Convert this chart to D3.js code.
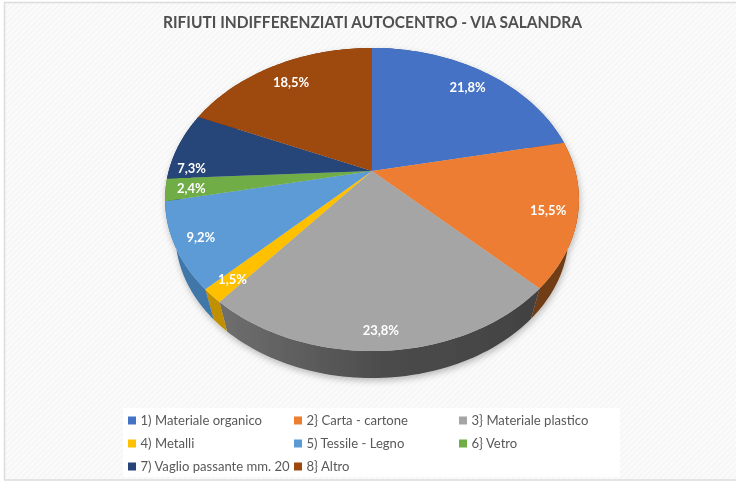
<!DOCTYPE html>
<html>
<head>
<meta charset="utf-8">
<style>
    html, body { margin: 0; padding: 0; background: #fff; overflow: hidden; }
    svg { display: block; filter: blur(0.4px); }
    text { font-family: Lato, "Open Sans", sans-serif; }
</style>
</head>
<body>
<div id="containerChart"></div>
<script src="https://cdn.jsdelivr.net/npm/d3@7"></script>
<script>
    var chartTitle = "RIFIUTI INDIFFERENZIATI AUTOCENTRO - VIA SALANDRA";
    var categories = ["1) Materiale organico", "2} Carta - cartone", "3} Materiale plastico", "4) Metalli",
        "5) Tessile - Legno", "6} Vetro", "7) Vaglio passante mm. 20", "8} Altro"];
    var values = [21.8, 15.5, 23.8, 1.5, 9.2, 2.4, 7.3, 18.5];
    var colors = ["#4472C4", "#ED7D31", "#A5A5A5", "#FFC000", "#5B9BD5", "#70AD47", "#264478", "#9E480E"];
    var sideColors = ["#2f5290", "#6f3c14", "#565656", "#c09000", "#3f76a8", "#4d7a30", "#1a2f54", "#6e3209"];

    var width = 736, height = 482;

    var svg = d3.select("#containerChart")
        .append("svg")
        .attr("width", width)
        .attr("height", height);

    var defs = svg.append("defs");
    var shadow = defs.append("filter").attr("id", "pieShadow")
        .attr("x", "-10%").attr("y", "-10%").attr("width", "120%").attr("height", "125%");
    shadow.append("feDropShadow").attr("dx", 1).attr("dy", 3)
        .attr("stdDeviation", 3).attr("flood-color", "#000").attr("flood-opacity", 0.25);

    // grey side darkens from left to right
    var sideGrad = defs.append("linearGradient").attr("id", "greySide")
        .attr("gradientUnits", "userSpaceOnUse")
        .attr("x1", 225).attr("x2", 540).attr("y1", 0).attr("y2", 0);
    sideGrad.append("stop").attr("offset", 0).attr("stop-color", "#6e6e6e");
    sideGrad.append("stop").attr("offset", 0.5).attr("stop-color", "#4c4c4c");
    sideGrad.append("stop").attr("offset", 1).attr("stop-color", "#424242");

    // faint diagonal hatch of the chart area
    var hatch = defs.append("pattern").attr("id", "hatch")
        .attr("patternUnits", "userSpaceOnUse")
        .attr("width", 4).attr("height", 4)
        .attr("patternTransform", "rotate(45)");
    hatch.append("rect").attr("width", 4).attr("height", 4).attr("fill", "#fbfbfb");
    hatch.append("rect").attr("width", 2).attr("height", 4).attr("fill", "#f6f6f6");

    // page
    svg.append("rect").attr("width", width).attr("height", height).attr("fill", "#fff");
    svg.append("rect").attr("x", 4.5).attr("y", 2.5).attr("width", width).attr("height", 477.5)
        .attr("fill", "url(#hatch)").attr("stroke", "#dcdcdc").attr("stroke-width", 1.5);

    svg.append("text")
        .attr("x", 372.5).attr("y", 28)
        .attr("text-anchor", "middle")
        .attr("font-size", 17.5)
        .attr("font-weight", 700)
        .attr("fill", "#505050")
        .attr("textLength", 419)
        .attr("lengthAdjust", "spacingAndGlyphs")
        .text(chartTitle);

    // tilted disc: unit circle through a perspective projection
    var cx = 372, cy = 171, a = 203.3, b = 146.2, k = -0.188;
    function project(angle, scale, dy) {
        var u = Math.sin(angle), v = -Math.cos(angle), den = 1 + k * v;
        return [cx + scale * a * u / den, cy + dy + scale * b * v / den];
    }
    var bottomScale = 0.95, bottomDrop = 36;

    var pie = d3.pie().sort(null).value(function (d) { return d; });
    var arcs = pie(values);

    function arcPoints(d, scale, dy) {
        return d3.range(0, 61).map(function (i) {
            return project(d.startAngle + (d.endAngle - d.startAngle) * i / 60, scale, dy);
        });
    }
    var line = d3.line();

    var disc = svg.append("g").attr("filter", "url(#pieShadow)");

    disc.selectAll("path.side")
        .data(arcs)
        .enter().append("path")
        .attr("class", "side")
        .attr("d", function (d) {
            return line(arcPoints(d, 1, 0).concat(arcPoints(d, bottomScale, bottomDrop).reverse())) + "Z";
        })
        .attr("fill", function (d, i) { return i === 2 ? "url(#greySide)" : sideColors[i]; });

    disc.selectAll("path.face")
        .data(arcs)
        .enter().append("path")
        .attr("class", "face")
        .attr("d", function (d) { return line([[cx, cy]].concat(arcPoints(d, 1, 0))) + "Z"; })
        .attr("fill", function (d, i) { return colors[i]; });

    // labels sit near the rim, a few were moved by hand in the original
    var labelRadius = 0.86;
    var labelNudge = { 0: [-1, 0], 1: [-1, 0], 2: [-2, 3], 3: [-2, 0], 4: [-2, 0], 5: [-3, 0], 6: [-14, 18], 7: [2, 1] };
    svg.selectAll("text.value")
        .data(arcs)
        .enter().append("text")
        .attr("class", "value")
        .attr("transform", function (d, i) {
            var p = project((d.startAngle + d.endAngle) / 2, 1, 0);
            var n = labelNudge[i] || [0, 0];
            return "translate(" + (cx + (p[0] - cx) * labelRadius + n[0]) + "," + (cy + (p[1] - cy) * labelRadius + n[1] + 1.5) + ")";
        })
        .attr("dy", "0.35em")
        .attr("text-anchor", "middle")
        .attr("font-size", 13)
        .attr("font-weight", 700)
        .attr("fill", "#fff")
        .text(function (d) { return d3.format(".1f")(d.data).replace(".", ",") + "%"; });

    // legend
    svg.append("rect").attr("x", 123).attr("y", 408).attr("width", 497).attr("height", 69).attr("fill", "#fff");
    var legendX = [128, 294, 459], legendY = [420.5, 443.5, 466.5];
    var legend = svg.selectAll("g.legend")
        .data(categories)
        .enter().append("g")
        .attr("class", "legend")
        .attr("transform", function (d, i) {
            return "translate(" + legendX[i % 3] + "," + legendY[Math.floor(i / 3)] + ")";
        });
    legend.append("rect")
        .attr("y", -4).attr("width", 8).attr("height", 8)
        .attr("fill", function (d, i) { return colors[i]; });
    legend.append("text")
        .attr("x", 12.5).attr("dy", "0.35em")
        .attr("font-size", 13.1)
        .attr("fill", "#595959")
        .text(function (d) { return d; });
</script>
</body>
</html>
